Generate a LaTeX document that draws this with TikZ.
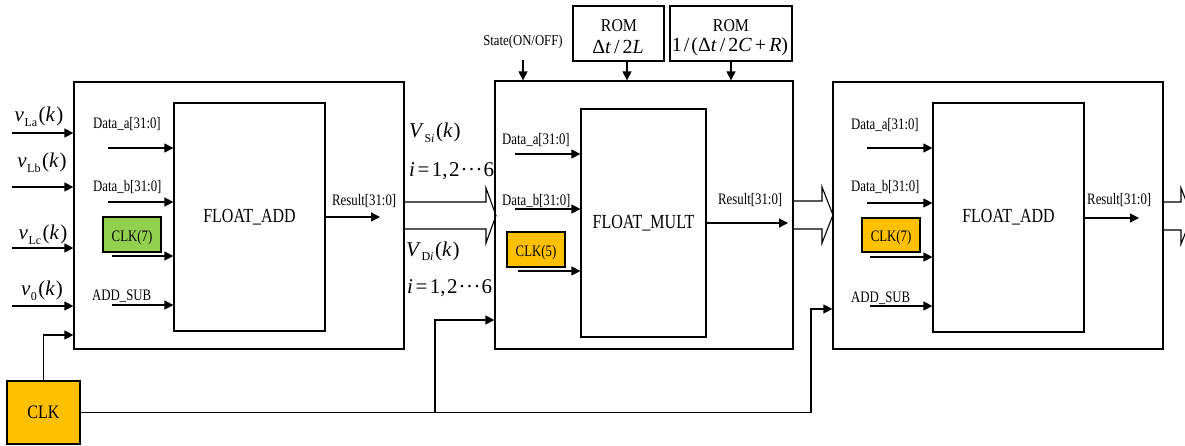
\documentclass[tikz,border=0pt]{standalone}
\usepackage{fontspec}
\setmainfont{Liberation Serif}
\usetikzlibrary{arrows.meta}
\definecolor{clkorange}{HTML}{FFC000}
\definecolor{clkgreen}{HTML}{92D050}
\newcommand{\sq}[1]{\scalebox{0.8}[1]{#1}}
\newcommand{\mdots}{\kern1pt·\kern0.5pt·\kern0.5pt·\kern1pt}
\newcommand{\sub}[1]{\raisebox{-4.5pt}{\fontsize{12}{12}\selectfont #1}}
\newcommand{\vlab}[1]{\textit{v}\kern0.5pt\sub{#1}\kern1.5pt(\textit{k}\kern1pt)}
\newcommand{\ieq}{\textit{i}\kern2.5pt=\kern2.5pt1,\kern1.5pt2\mdots6}
\begin{document}
\begin{tikzpicture}[x=1pt,y=-1pt,
  box/.style={draw,line width=1.2pt,inner sep=0pt},
  clkbox/.style={draw,line width=1.1pt,inner sep=0pt,minimum width=58pt,minimum height=35pt,font=\fontsize{16}{16}\selectfont},
  lab/.style={font=\fontsize{16}{16}\selectfont,inner sep=0pt,anchor=west},
  mathlab/.style={font=\fontsize{21}{21}\selectfont,inner sep=0pt},
  romlab/.style={inner sep=0pt},
  titlefont/.style={font=\fontsize{20}{20}\selectfont},
  conn/.style={-{Triangle[length=9pt,width=9pt]},line width=1.2pt},
  hollow/.style={line width=1.1pt}]
\useasboundingbox (0,0) rectangle (1185,445);
\clip (0,0) rectangle (1185,445);

% ---------------- block 1 ----------------
\node[box,minimum width=330pt,minimum height=267pt] (outer1) at (239,215.5) {};
\node[box,titlefont,minimum width=151pt,minimum height=228pt] (inner1) at (249.5,217) {\scalebox{0.8}[1]{FLOAT\_ADD}};
\node[lab] (da1) at (93,124) {\sq{Data\_a[31:0]}};
\node[lab] (db1) at (93,187) {\sq{Data\_b[31:0]}};
\node[lab] (as1) at (92,296) {\sq{ADD\_SUB}};
\node[lab] (rs1) at (332,201) {\sq{Result[31:0]}};
\node[clkbox,fill=clkgreen] (ck1) at (132,234.5) {\raisebox{-3pt}[\height][\depth]{\sq{CLK(7)}}};
\coordinate (a1) at (108,148);
\coordinate (b1) at (108,202);
\coordinate (c1) at (112,256);
\coordinate (s1) at (112,305);
\coordinate (r1) at (380,217);
\draw[conn] (a1) -- (a1 -| inner1.west);
\draw[conn] (b1) -- (b1 -| inner1.west);
\draw[conn] (c1) -- (c1 -| inner1.west);
\draw[conn] (s1) -- (s1 -| inner1.west);
\draw[conn] (r1 -| inner1.east) -- (r1);

% inputs
\coordinate (vla) at (12,133);
\coordinate (vlb) at (12,187);
\coordinate (vlc) at (12,248);
\coordinate (vo) at (12,306);
\draw[conn] (vla) -- (vla -| outer1.west);
\draw[conn] (vlb) -- (vlb -| outer1.west);
\draw[conn] (vlc) -- (vlc -| outer1.west);
\draw[conn] (vo) -- (vo -| outer1.west);
\node[mathlab] (lvla) at (39,117) {\vlab{La}};
\node[mathlab] (lvlb) at (42,163) {\vlab{Lb}};
\node[mathlab] (lvlc) at (43,235) {\vlab{Lc}};
\node[mathlab] (lvo) at (42,291) {\vlab{0}};

% hollow arrow 1
\draw[hollow] (404,202) -- (486,202) -- (486,188) -- (496,215.5) -- (486,243) -- (486,229) -- (404,229);
\node[mathlab,anchor=west] (vsi) at (409,133) {\textit{V}\kern0.5pt\sub{S\textit{i}}\kern1.5pt(\textit{k}\kern1pt)};
\node[mathlab,anchor=west] (isi) at (409,171) {\ieq};
\node[mathlab,anchor=west] (vdi) at (406,251) {\textit{V}\kern0.5pt\sub{D\textit{i}}\kern1.5pt(\textit{k}\kern1pt)};
\node[mathlab,anchor=west] (idi) at (407,288) {\ieq};

% ---------------- block 2 ----------------
\node[box,minimum width=298pt,minimum height=268pt] (outer2) at (644,215) {};
\node[box,titlefont,minimum width=125pt,minimum height=228pt] (inner2) at (643.5,223) {\scalebox{0.8}[1]{FLOAT\_MULT}};
\node[box,minimum width=91pt,minimum height=55pt] (rom1) at (618.5,33.5) {};
\node[box,minimum width=122pt,minimum height=55pt] (rom2) at (731,33.5) {};
\node[romlab,font=\fontsize{18}{18}\selectfont] (rom1a) at (619,26) {\scalebox{0.88}[1]{ROM}};
\node[romlab,font=\fontsize{20}{20}\selectfont] (rom1b) at (618,47) {Δ\textit{t}\kern3pt/\kern3pt2\textit{L}};
\node[romlab,font=\fontsize{18}{18}\selectfont] (rom2a) at (731,26) {\scalebox{0.88}[1]{ROM}};
\node[romlab,font=\fontsize{20}{20}\selectfont] (rom2b) at (730,47) {1\kern2pt/\kern2pt(Δ\textit{t}\kern3pt/\kern3pt2\textit{C}\kern3pt+\kern3pt\textit{R})};
\node[font=\fontsize{15}{15}\selectfont,inner sep=0pt] (state) at (523,42) {\scalebox{0.85}[1]{State(ON/OFF)}};
\coordinate (st) at (523,60);
\coordinate (rom1out) at (627,61);
\draw[conn] (st) -- (st |- outer2.north);
\draw[conn] (rom1out) -- (rom1out |- outer2.north);
\draw[conn] (rom2.south) -- (rom2.south |- outer2.north);
\node[lab] (da2) at (502,140) {\sq{Data\_a[31:0]}};
\node[lab] (db2) at (502,201) {\sq{Data\_b[31:0]}};
\node[lab] (rs2) at (718,200) {\sq{Result[31:0]}};
\node[clkbox,fill=clkorange] (ck2) at (536,249.5) {\raisebox{-3pt}[\height][\depth]{\sq{CLK(5)}}};
\coordinate (a2) at (515,154);
\coordinate (b2) at (515,209);
\coordinate (c2) at (518,271);
\coordinate (r2) at (788,223);
\draw[conn] (a2) -- (a2 -| inner2.west);
\draw[conn] (b2) -- (b2 -| inner2.west);
\draw[conn] (c2) -- (c2 -| inner2.west);
\draw[conn] (r2 -| inner2.east) -- (r2);

% hollow arrow 2
\draw[hollow] (793,201) -- (822,201) -- (822,187) -- (833,215) -- (822,243) -- (822,229) -- (793,229);

% ---------------- block 3 ----------------
\node[box,minimum width=330pt,minimum height=267pt] (outer3) at (998,215.5) {};
\node[box,titlefont,minimum width=151pt,minimum height=229pt] (inner3) at (1008.5,217.5) {\scalebox{0.8}[1]{FLOAT\_ADD}};
\node[lab] (da3) at (851,125) {\sq{Data\_a[31:0]}};
\node[lab] (db3) at (851,187) {\sq{Data\_b[31:0]}};
\node[lab] (as3) at (851,298) {\sq{ADD\_SUB}};
\node[lab] (rs3) at (1087,200) {\sq{Result[31:0]}};
\node[clkbox,fill=clkorange,minimum height=34pt] (ck3) at (891,235) {\raisebox{-3pt}[\height][\depth]{\sq{CLK(7)}}};
\coordinate (a3) at (867,148);
\coordinate (b3) at (867,203);
\coordinate (c3) at (870,257);
\coordinate (s3) at (870,306);
\coordinate (r3) at (1139,218);
\draw[conn] (a3) -- (a3 -| inner3.west);
\draw[conn] (b3) -- (b3 -| inner3.west);
\draw[conn] (c3) -- (c3 -| inner3.west);
\draw[conn] (s3) -- (s3 -| inner3.west);
\draw[conn] (r3 -| inner3.east) -- (r3);

% hollow arrow 3 (leaves the picture)
\draw[hollow] (1163,202) -- (1181,202) -- (1181,188) -- (1192,216) -- (1181,244) -- (1181,230) -- (1163,230);

% ---------------- clock ----------------
\node[box,line width=1.1pt,fill=clkorange,minimum width=73pt,minimum height=63pt,font=\fontsize{19}{19}\selectfont] (clk) at (43.5,412.5) {\scalebox{0.85}[1]{CLK}};
\coordinate (j1) at (435,412.5);
\coordinate (j2) at (811,412.5);
\coordinate (k1) at (43.5,335);
\coordinate (k2) at (435,320);
\coordinate (k3) at (811,309);
\draw[conn] (clk.north) -- (k1) -- (k1 -| outer1.west);
\draw[conn] (clk.east) -- (j2) -- (k3) -- (k3 -| outer3.west);
\draw[conn] (j1) -- (k2) -- (k2 -| outer2.west);
\end{tikzpicture}
\end{document}
